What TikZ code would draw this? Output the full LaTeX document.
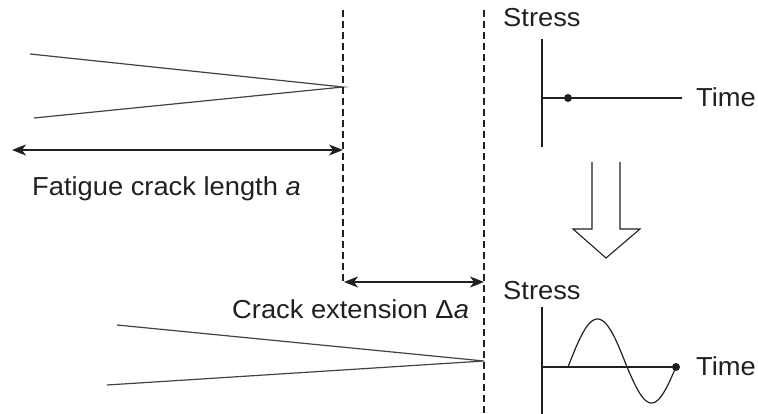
\documentclass[tikz,border=0pt]{standalone}
\usepackage{fontspec}
\setmainfont{Liberation Sans}[FakeStretch=1.05]
\usetikzlibrary{arrows.meta}
\definecolor{ink}{HTML}{231F20}
\tikzset{
  crack/.style={draw=ink!85, line width=1.2pt},
  tipline/.style={draw=ink, line width=1.4pt, dash pattern=on 7pt off 4pt},
  dim/.style={draw=ink, line width=1.4pt, {Stealth[length=14pt,width=11pt,inset=4pt]}-{Stealth[length=14pt,width=11pt,inset=4pt]}},
  axis/.style={draw=ink, line width=1.8pt},
  thinaxis/.style={draw=ink, line width=1.2pt},
  lbl/.style={inner sep=0pt, anchor=base west, text=ink, font=\fontsize{26}{30}\selectfont},
  dot/.style={circle, fill=ink, inner sep=0pt, minimum size=8pt}
}
\begin{document}
\begin{tikzpicture}[x=1pt,y=-1pt]
\useasboundingbox (0,0) rectangle (758,414);
% top crack
\coordinate (t1) at (343,87);
\coordinate (ua) at (30,54);
\coordinate (la) at (34,118);
\draw[crack] (ua) -- (t1) -- (la);
% dashed crack-tip lines
\coordinate (d1top) at (343,10);
\coordinate (d1bot) at (343,281);
\coordinate (d2top) at (484,10);
\coordinate (d2bot) at (484,414);
\draw[tipline] (d1top) -- (d1bot);
\draw[tipline] (d2top) -- (d2bot);
% fatigue crack length
\coordinate (fa) at (12,150);
\coordinate (fb) at (343,150);
\draw[dim] (fa) -- (fb);
\node[lbl] (flab) at (32,196) {Fatigue crack length \textit{a}};
% crack extension
\coordinate (ea) at (344,282);
\coordinate (eb) at (484,282);
\draw[dim] (ea) -- (eb);
\node[lbl] (elab) at (232,318) {Crack extension Δ\textit{a}};
% bottom crack
\coordinate (t2) at (484,361);
\coordinate (ub) at (117,325);
\coordinate (lb) at (107,385);
\draw[crack] (ub) -- (t2) -- (lb);
% top stress-time graph
\node[lbl] (s1) at (503,27) {Stress};
\coordinate (a1t) at (542,39);
\coordinate (a1b) at (542,147);
\coordinate (h1a) at (542,98);
\coordinate (h1b) at (682,98);
\draw[axis] (a1t) -- (a1b);
\draw[axis] (h1a) -- (h1b);
\node[dot] (p1) at (568,98) {};
\node[lbl] (time1) at (696,107) {Time};
% hollow arrow
\draw[draw=ink, line width=1.1pt, line join=miter]
  (592,162) -- (592,229) -- (573,229) -- (606,258) -- (640,229) -- (620,229) -- (620,162);
% bottom stress-time graph
\node[lbl] (s2) at (503,299) {Stress};
\coordinate (a2t) at (542,307);
\coordinate (a2b) at (542,414);
\coordinate (h2a) at (542,367);
\coordinate (h2b) at (676,367);
\draw[thinaxis] (a2t) -- (a2b);
\draw[thinaxis] (h2a) -- (h2b);
\draw[thinaxis, line join=round] plot[domain=0:180, samples=50, smooth] ({568+59*\x/180}, {367-48*sin(\x)})
  -- plot[domain=180:360, samples=50, smooth] ({627+49*(\x-180)/180}, {367-36*sin(\x)});
\node[dot] (p2) at (676,367) {};
\node[lbl] (time2) at (696,375) {Time};
\end{tikzpicture}
\end{document}
